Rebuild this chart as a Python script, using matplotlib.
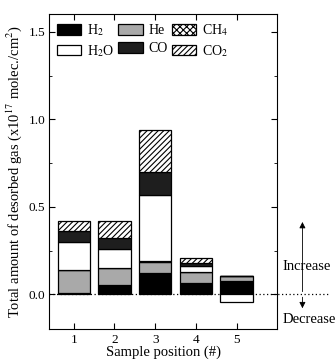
import numpy as np
import matplotlib
matplotlib.use('Agg')
import matplotlib.pyplot as plt
from matplotlib.patches import Patch
from matplotlib.ticker import MultipleLocator

plt.rcParams['font.family'] = 'Liberation Serif'
plt.rcParams['hatch.linewidth'] = 0.8
plt.rcParams['mathtext.fontset'] = 'stix'

# data (x10^17 molec./cm^2)
positions = [1, 2, 3, 4, 5]
h2 = [0.010, 0.053, 0.125, 0.063, 0.075]
he = [0.127, 0.100, 0.062, 0.065, 0.028]
ch4 = [0.005, 0.000, 0.005, 0.000, 0.000]
h2o = [0.158, 0.104, 0.375, 0.035, -0.043]
co = [0.060, 0.068, 0.130, 0.015, 0.000]
co2 = [0.060, 0.095, 0.243, 0.032, 0.000]

labels = ['H$_2$', 'He', 'CH$_4$', 'H$_2$O', 'CO', 'CO$_2$']
series = [h2, he, ch4, h2o, co, co2]
faces = ['black', '#a9a9a9', 'white', 'white', '#1e1e1e', 'white']
hatches = [None, None, 'xxxxx', None, None, '//////']

fig = plt.figure(figsize=(3.36, 3.62), dpi=100)
ax = fig.add_axes([0.147, 0.09, 0.678, 0.870])

pos_bottom = np.zeros(len(positions))
neg_bottom = np.zeros(len(positions))
for vals, fc, ht in zip(series, faces, hatches):
    vals = np.array(vals)
    bottom = np.where(vals >= 0, pos_bottom, neg_bottom)
    ax.bar(positions, vals, width=0.8, bottom=bottom, color=fc, hatch=ht,
           edgecolor='black', linewidth=0.9)
    pos_bottom += np.where(vals > 0, vals, 0)
    neg_bottom += np.where(vals < 0, vals, 0)

ax.set_xlim(0.4, 6.0)
ax.set_ylim(-0.2, 1.6)
ax.set_xticks(positions)
ax.yaxis.set_major_locator(MultipleLocator(0.5))
ax.yaxis.set_minor_locator(MultipleLocator(0.25))
ax.tick_params(which='both', direction='in', top=True, right=True, labelsize=9.5)
ax.tick_params(which='major', length=4, pad=3)
ax.tick_params(which='minor', length=2.5)
ax.yaxis.set_major_formatter(matplotlib.ticker.FormatStrFormatter('%.1f'))

ax.set_xlabel('Sample position (#)', fontsize=10.5, labelpad=0)
ax.set_ylabel('Total amount of desorbed gas (x10$^{17}$ molec./cm$^2$)', fontsize=10.5, labelpad=3)

# zero line, running out past the right frame
ax.plot([0, 1.23], [0, 0], transform=ax.get_yaxis_transform(), color='black',
        linestyle=(0, (1, 2)), linewidth=0.9, clip_on=False, zorder=0.5)

# increase / decrease arrows
ax.annotate('', xy=(6.62, 0.43), xytext=(6.62, 0.0), annotation_clip=False,
            arrowprops=dict(arrowstyle='-|>', color='black', lw=0.6, mutation_scale=9))
ax.annotate('', xy=(6.62, -0.095), xytext=(6.62, 0.0), annotation_clip=False,
            arrowprops=dict(arrowstyle='-|>', color='black', lw=0.6, mutation_scale=9))
ax.text(6.13, 0.16, 'Increase', fontsize=10.5, va='center', ha='left', clip_on=False)
ax.text(6.13, -0.145, 'Decrease', fontsize=10.5, va='center', ha='left', clip_on=False)

handles = [Patch(facecolor=fc, edgecolor='black', hatch=ht, linewidth=0.9)
           for fc, ht in zip(faces, hatches)]
order = [0, 3, 1, 4, 2, 5]
ax.legend([handles[i] for i in order], [labels[i] for i in order], ncol=3,
          loc='upper left', frameon=False, fontsize=10, handlelength=1.75,
          handleheight=0.8, handletextpad=0.4, columnspacing=0.3,
          labelspacing=0.35, borderaxespad=0.35, borderpad=0.2)

fig.savefig('out.png', dpi=100)
